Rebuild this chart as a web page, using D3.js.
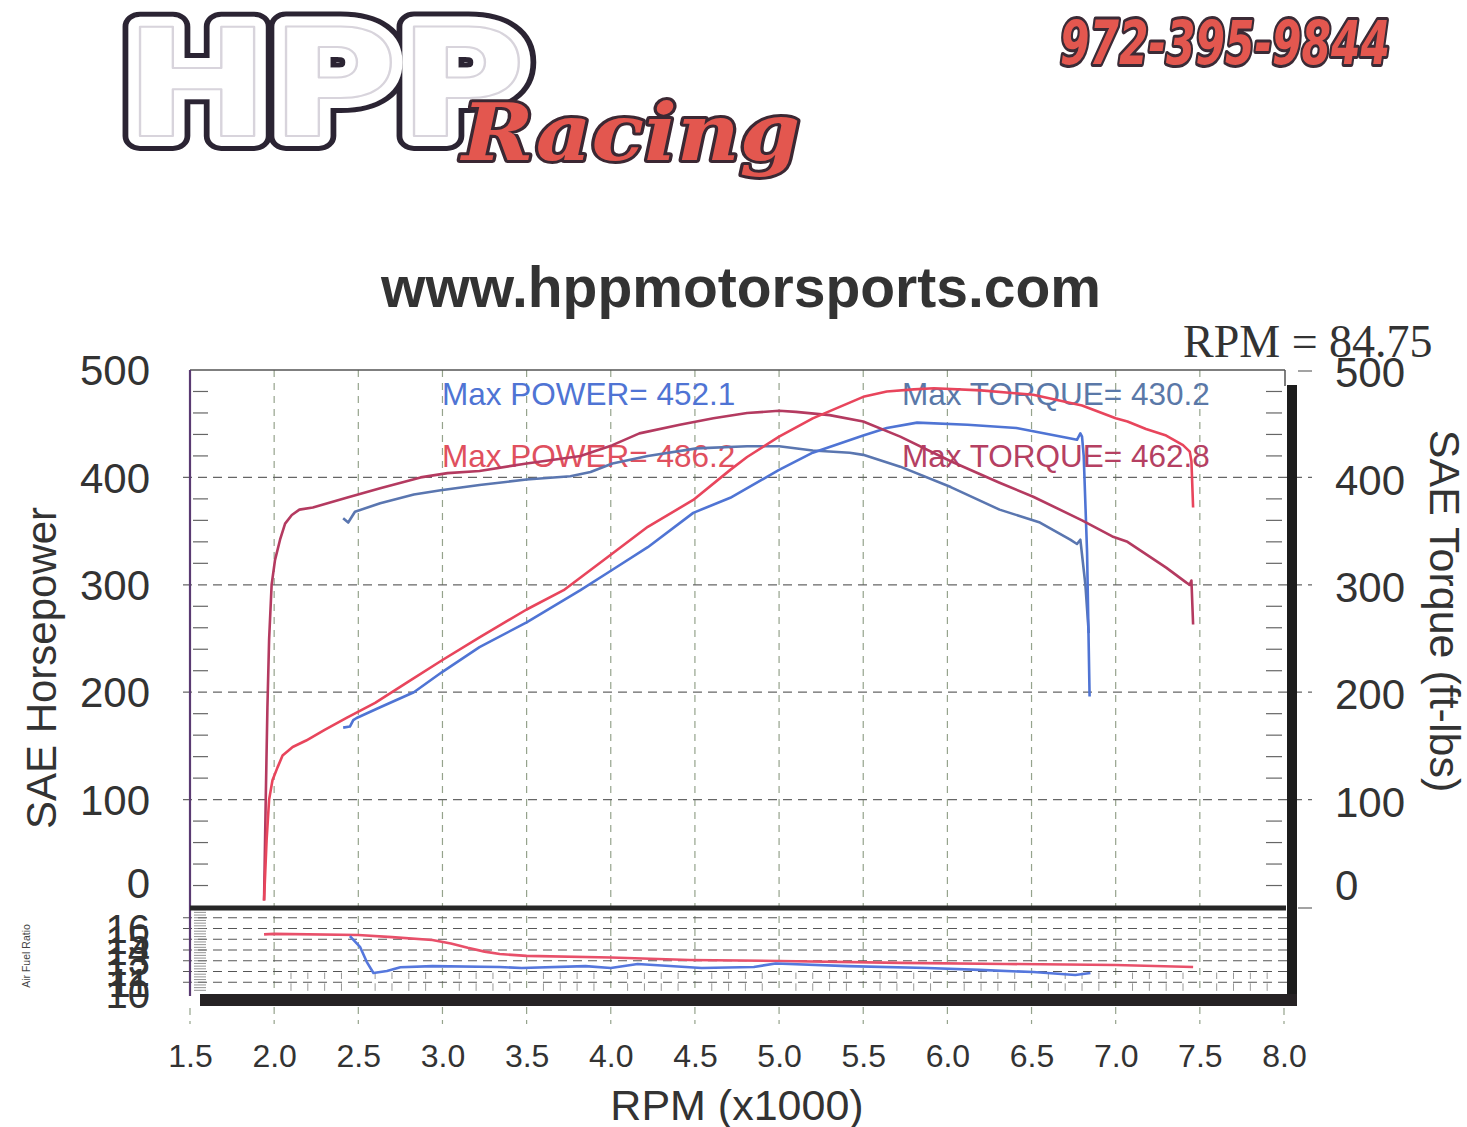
<!DOCTYPE html>
<html>
<head>
<meta charset="utf-8">
<script src="https://cdn.jsdelivr.net/npm/d3@7"></script>
<style>
body { margin: 0; background: #fff; }
text { font-family: "Liberation Sans", Arial, sans-serif; }
</style>
</head>
<body>
<script>
// dyno sheet: two runs, power + torque, air/fuel ratio strip below

// tick labels
var xTicks = [1.5, 2.0, 2.5, 3.0, 3.5, 4.0, 4.5, 5.0, 5.5, 6.0, 6.5, 7.0, 7.5, 8.0];
var powerTicks = [0, 100, 200, 300, 400, 500];
var afrTicks = [10, 11, 12, 13, 14, 15, 16];

// run 1 (blue) - rpm x1000
var blueHpRpm = [2.41, 2.45, 2.47, 2.49, 2.63, 2.83, 3.0, 3.22, 3.5, 3.82, 4.01, 4.22, 4.49, 4.71, 5.0, 5.2, 5.5, 5.64, 5.82, 6.12, 6.41, 6.71, 6.77, 6.79, 6.80, 6.81, 6.83, 6.845];
var blueHp    = [167, 168, 174, 176, 186, 200, 219, 242, 265, 295, 314, 335, 367, 381, 407, 423, 439, 446, 451, 449, 446, 437, 435, 441, 438, 420, 330, 196];
var blueTqRpm = [2.41, 2.44, 2.48, 2.63, 2.83, 2.99, 3.22, 3.5, 3.76, 3.88, 4.01, 4.22, 4.51, 4.81, 5.0, 5.2, 5.42, 5.5, 5.72, 6.02, 6.31, 6.55, 6.73, 6.77, 6.79, 6.82, 6.84];
var blueTq    = [362, 358, 368, 376, 384, 388, 393, 398, 401, 405, 413, 420, 427, 429, 429, 425, 423, 421, 410, 391, 370, 358, 342, 338, 342, 300, 255];

// run 2 (red)
var redHpRpm = [1.94, 1.955, 1.97, 1.99, 2.02, 2.05, 2.11, 2.19, 2.3, 2.43, 2.6, 2.8, 3.0, 3.22, 3.5, 3.72, 4.0, 4.22, 4.49, 4.71, 4.81, 5.0, 5.2, 5.5, 5.64, 5.8, 5.92, 6.2, 6.51, 6.8, 7.0, 7.07, 7.18, 7.3, 7.4, 7.44, 7.45, 7.46];
var redHp    = [6, 62, 100, 118, 130, 141, 149, 155, 165, 176, 190, 210, 230, 251, 277, 295, 328, 354, 379, 407, 419, 438, 455, 475, 480, 482, 483, 481, 477, 467, 455, 452, 445, 439, 430, 424, 415, 372];
var redTqRpm = [1.94, 1.95, 1.96, 1.97, 1.985, 2.005, 2.035, 2.065, 2.105, 2.15, 2.23, 2.43, 2.63, 2.87, 3.03, 3.22, 3.5, 3.82, 4.01, 4.17, 4.41, 4.61, 4.81, 5.0, 5.1, 5.3, 5.5, 5.72, 6.02, 6.31, 6.51, 6.8, 6.98, 7.07, 7.3, 7.42, 7.44, 7.45, 7.46];
var redTq    = [6, 100, 186, 249, 300, 323, 342, 357, 365, 370, 372, 381, 390, 400, 404, 406, 413, 420, 430, 441, 449, 455, 460, 462, 461, 458, 452, 438, 415, 395, 382, 360, 345, 340, 316, 302, 300, 304, 263];

// air fuel ratio
var blueAfrRpm = [2.45, 2.51, 2.55, 2.59, 2.67, 2.75, 2.94, 3.34, 3.47, 3.85, 4.0, 4.16, 4.54, 4.85, 4.98, 5.41, 5.88, 6.19, 6.51, 6.76, 6.85];
var blueAfr    = [15.3, 14.3, 12.9, 11.86, 12.05, 12.4, 12.5, 12.42, 12.33, 12.5, 12.33, 12.7, 12.33, 12.42, 12.75, 12.5, 12.33, 12.15, 11.95, 11.67, 11.86];
var redAfrRpm = [1.94, 2.0, 2.5, 2.7, 2.94, 3.05, 3.15, 3.25, 3.34, 3.5, 4.0, 4.47, 5.0, 5.72, 6.35, 7.0, 7.46];
var redAfr    = [15.45, 15.5, 15.4, 15.2, 14.93, 14.6, 14.2, 13.85, 13.63, 13.45, 13.3, 13.07, 12.98, 12.8, 12.7, 12.6, 12.42];

var maxLabels = ["Max POWER= 452.1", "Max POWER= 486.2", "Max TORQUE= 430.2", "Max TORQUE= 462.8"];

// colours
var cBlueHp = "#4f74d4", cBlueTq = "#5a76b0", cRedHp = "#e8455c", cRedTq = "#b43a60";

var outWidth = 1467, outHeight = 1127;
var plot = {left: 190, right: 1284, top: 370, bottom: 907};
var afrBox = {top: 907, bottom: 993};

// scales
var xScale = d3.scaleLinear().domain([1.5, 8]).range([plot.left, plot.right]);
var yScale = d3.scaleLinear().domain([0, 500]).range([plot.bottom, plot.top]);
var afrScale = d3.scaleLinear().domain([10, 18]).range([afrBox.bottom, afrBox.top]);

var svg = d3.select("body").append("svg")
    .attr("width", outWidth)
    .attr("height", outHeight);

// ---- header / logo ----
var logo = svg.append("g");
function hpp(stroke, width) {
    logo.append("text").attr("x", 124).attr("y", 136).text("HPP")
        .style("font-family", "DejaVu Sans").style("font-weight", "bold").style("font-size", "150px")
        .attr("textLength", 402).attr("lengthAdjust", "spacingAndGlyphs")
        .attr("fill", "#fff").attr("stroke", stroke).attr("stroke-width", width)
        .attr("stroke-linejoin", "round");
}
hpp("#2b2433", 30);
hpp("#fff", 20);
hpp("#d8d4dc", 2);
logo.append("text").attr("x", 462).attr("y", 160).text("Racing")
    .style("font-family", "DejaVu Serif").style("font-weight", "bold").style("font-style", "italic").style("font-size", "78px")
    .attr("textLength", 338).attr("lengthAdjust", "spacingAndGlyphs")
    .attr("fill", "#e3574f").attr("stroke", "#3b2833").attr("stroke-width", 6)
    .attr("paint-order", "stroke").attr("stroke-linejoin", "round");
svg.append("text").attr("x", 1060).attr("y", 64).text("972-395-9844")
    .style("font-family", "DejaVu Sans").style("font-weight", "bold").style("font-style", "italic").style("font-size", "60px")
    .attr("textLength", 330).attr("lengthAdjust", "spacingAndGlyphs")
    .attr("fill", "#e3574f").attr("stroke", "#3b2b36").attr("stroke-width", 6)
    .attr("paint-order", "stroke").attr("stroke-linejoin", "round");

svg.append("text").attr("x", 741).attr("y", 307).attr("text-anchor", "middle")
    .style("font-weight", "bold").style("font-size", "57px").attr("fill", "#333")
    .text("www.hppmotorsports.com");

// ---- grid ----
var grid = svg.append("g");
grid.selectAll(".vgrid")
    .data(xTicks.slice(1, -1))
    .enter().append("line")
    .attr("x1", function(d) { return xScale(d); })
    .attr("x2", function(d) { return xScale(d); })
    .attr("y1", plot.top).attr("y2", 1024)
    .attr("stroke", "#95a38c").attr("stroke-width", 1.2).attr("stroke-dasharray", "7,6");
grid.selectAll(".vstub")
    .data([1.5, 8.0])
    .enter().append("line")
    .attr("x1", function(d) { return xScale(d); })
    .attr("x2", function(d) { return xScale(d); })
    .attr("y1", 1008).attr("y2", 1024)
    .attr("stroke", "#95a38c").attr("stroke-width", 1.2).attr("stroke-dasharray", "7,6");
grid.selectAll(".hgrid")
    .data(powerTicks.slice(1, -1))
    .enter().append("line")
    .attr("x1", 183).attr("x2", 1312)
    .attr("y1", function(d) { return yScale(d); })
    .attr("y2", function(d) { return yScale(d); })
    .attr("stroke", "#666").attr("stroke-width", 1.2).attr("stroke-dasharray", "9,6");
grid.selectAll(".rstub")
    .data([0, 500])
    .enter().append("line")
    .attr("x1", 1298).attr("x2", 1312)
    .attr("y1", function(d) { return yScale(d) + 1; })
    .attr("y2", function(d) { return yScale(d) + 1; })
    .attr("stroke", "#666").attr("stroke-width", 1.2);

// minor ticks every 20 units, both sides
var minor = d3.range(20, 500, 20).filter(function(d) { return d % 100 !== 0; });
grid.selectAll(".lminor").data(minor).enter().append("line")
    .attr("x1", 193).attr("x2", 208)
    .attr("y1", function(d) { return yScale(d); }).attr("y2", function(d) { return yScale(d); })
    .attr("stroke", "#666").attr("stroke-width", 1.2);
grid.selectAll(".rminor").data(minor).enter().append("line")
    .attr("x1", 1266).attr("x2", 1282)
    .attr("y1", function(d) { return yScale(d); }).attr("y2", function(d) { return yScale(d); })
    .attr("stroke", "#666").attr("stroke-width", 1.2);

// air fuel strip grid
grid.selectAll(".agrid").data(d3.range(11, 18)).enter().append("line")
    .attr("x1", 183).attr("x2", 1290)
    .attr("y1", function(d) { return afrScale(d); }).attr("y2", function(d) { return afrScale(d); })
    .attr("stroke", "#555").attr("stroke-width", 1.1).attr("stroke-dasharray", "9,6");
grid.selectAll(".aminor").data(d3.range(10.25, 18, 0.25)).enter().append("line")
    .attr("x1", 194).attr("x2", 206)
    .attr("y1", function(d) { return afrScale(d); }).attr("y2", function(d) { return afrScale(d); })
    .attr("stroke", "#777").attr("stroke-width", 0.8);
var rpmMinor = d3.range(2.1, 7.95, 0.1).filter(function(d) { return Math.abs(d * 2 - Math.round(d * 2)) > 0.01; });
grid.selectAll(".rminorA").data(rpmMinor).enter().append("line")
    .attr("x1", function(d) { return xScale(d); }).attr("x2", function(d) { return xScale(d); })
    .attr("y1", afrScale(11.9)).attr("y2", afrScale(11.3))
    .attr("stroke", "#999").attr("stroke-width", 1);
grid.selectAll(".rminorB").data(rpmMinor).enter().append("line")
    .attr("x1", function(d) { return xScale(d); }).attr("x2", function(d) { return xScale(d); })
    .attr("y1", afrScale(10.9)).attr("y2", afrScale(10.2))
    .attr("stroke", "#999").attr("stroke-width", 1);

// ---- frame ----
svg.append("line").attr("x1", plot.left).attr("x2", plot.right + 1)
    .attr("y1", plot.top).attr("y2", plot.top)
    .attr("stroke", "#555").attr("stroke-width", 1.5);
svg.append("line").attr("x1", plot.right + 1).attr("x2", plot.right + 1)
    .attr("y1", plot.top).attr("y2", 386)
    .attr("stroke", "#555").attr("stroke-width", 1.5);
svg.append("line").attr("x1", plot.left).attr("x2", plot.left)
    .attr("y1", plot.top).attr("y2", 996)
    .attr("stroke", "#5a3a72").attr("stroke-width", 2.2);

// ---- max labels ----
var labelPos = [[442, 405, cBlueHp], [442, 467, "#e0505e"], [902, 405, "#5a78a8"], [902, 467, "#b54062"]];
svg.selectAll(".maxlab")
    .data(maxLabels)
    .enter().append("text")
    .attr("x", function(d, i) { return labelPos[i][0]; })
    .attr("y", function(d, i) { return labelPos[i][1]; })
    .attr("fill", function(d, i) { return labelPos[i][2]; })
    .style("font-size", "31.5px")
    .text(function(d) { return d; });

// ---- curves ----
function zipLine(xs, ys, sy) {
    return d3.line()
        .x(function(d) { return xScale(d[0]); })
        .y(function(d) { return sy(d[1]); })(d3.zip(xs, ys));
}
var curves = [
    [blueTqRpm, blueTq, cBlueTq, yScale],
    [blueHpRpm, blueHp, cBlueHp, yScale],
    [redTqRpm, redTq, cRedTq, yScale],
    [redHpRpm, redHp, cRedHp, yScale],
    [redAfrRpm, redAfr, "#e8506a", afrScale],
    [blueAfrRpm, blueAfr, "#5577dd", afrScale]
];
svg.selectAll(".curve")
    .data(curves)
    .enter().append("path")
    .attr("d", function(c) { return zipLine(c[0], c[1], c[3]); })
    .attr("fill", "none")
    .attr("stroke", function(c) { return c[2]; })
    .attr("stroke-width", 2.6)
    .attr("stroke-linejoin", "round");

// separator + shadow bars
svg.append("line").attr("x1", plot.left).attr("x2", plot.right + 2)
    .attr("y1", plot.bottom + 1).attr("y2", plot.bottom + 1)
    .attr("stroke", "#262626").attr("stroke-width", 5);
svg.append("rect").attr("x", 1287).attr("y", 385).attr("width", 10).attr("height", 621).attr("fill", "#1c1c1c");
svg.append("rect").attr("x", 200).attr("y", 994).attr("width", 1097).attr("height", 12).attr("fill", "#262224");

// ---- axes ----
var leftAxis = svg.append("g")
    .attr("transform", "translate(150,0)")
    .call(d3.axisLeft(yScale).tickValues(powerTicks).tickSize(0).tickPadding(0));
leftAxis.select(".domain").remove();
leftAxis.selectAll("text").style("font-size", "42px").attr("fill", "#333")
    .attr("dy", function(d) { return d === 0 ? "-0.22em" : "0.35em"; })
    .style("font-family", "Liberation Sans, Arial, sans-serif");

var rightAxis = svg.append("g")
    .attr("transform", "translate(1335,2)")
    .call(d3.axisRight(yScale).tickValues(powerTicks).tickSize(0).tickPadding(0));
rightAxis.select(".domain").remove();
rightAxis.selectAll("text").style("font-size", "42px").attr("fill", "#333")
    .attr("dy", function(d) { return d === 0 ? "-0.22em" : "0.35em"; })
    .style("font-family", "Liberation Sans, Arial, sans-serif");

var afrAxis = svg.append("g")
    .attr("transform", "translate(150,0)")
    .call(d3.axisLeft(afrScale).tickValues(afrTicks).tickSize(0).tickPadding(0));
afrAxis.select(".domain").remove();
afrAxis.selectAll("text").style("font-size", "40px").attr("fill", "#333").attr("dy", "0.35em")
    .style("font-family", "Liberation Sans, Arial, sans-serif");

var xAxis = svg.append("g")
    .attr("transform", "translate(0,1044)")
    .call(d3.axisBottom(xScale).tickValues(xTicks).tickFormat(d3.format(".1f")).tickSize(0).tickPadding(0));
xAxis.select(".domain").remove();
xAxis.selectAll("text").style("font-size", "32px").attr("fill", "#333")
    .style("font-family", "Liberation Sans, Arial, sans-serif");

// axis titles
svg.append("text").attr("transform", "translate(56,668) rotate(-90)")
    .attr("text-anchor", "middle").style("font-size", "42px").attr("fill", "#333")
    .text("SAE Horsepower");
svg.append("text").attr("transform", "translate(1430,611) rotate(90)")
    .attr("text-anchor", "middle").style("font-size", "43px").attr("fill", "#333")
    .text("SAE Torque (ft-lbs)");
svg.append("text").attr("x", 737).attr("y", 1120).attr("text-anchor", "middle")
    .style("font-size", "43px").attr("fill", "#333")
    .text("RPM (x1000)");
svg.append("text").attr("transform", "translate(30,956) rotate(-90)")
    .attr("text-anchor", "middle").style("font-size", "10.5px").attr("fill", "#444")
    .text("Air Fuel Ratio");
svg.append("text").attr("x", 1183).attr("y", 357)
    .style("font-family", "Liberation Serif, Times New Roman, serif").style("font-size", "46px").attr("fill", "#333")
    .text("RPM = 84.75");
</script>
</body>
</html>
